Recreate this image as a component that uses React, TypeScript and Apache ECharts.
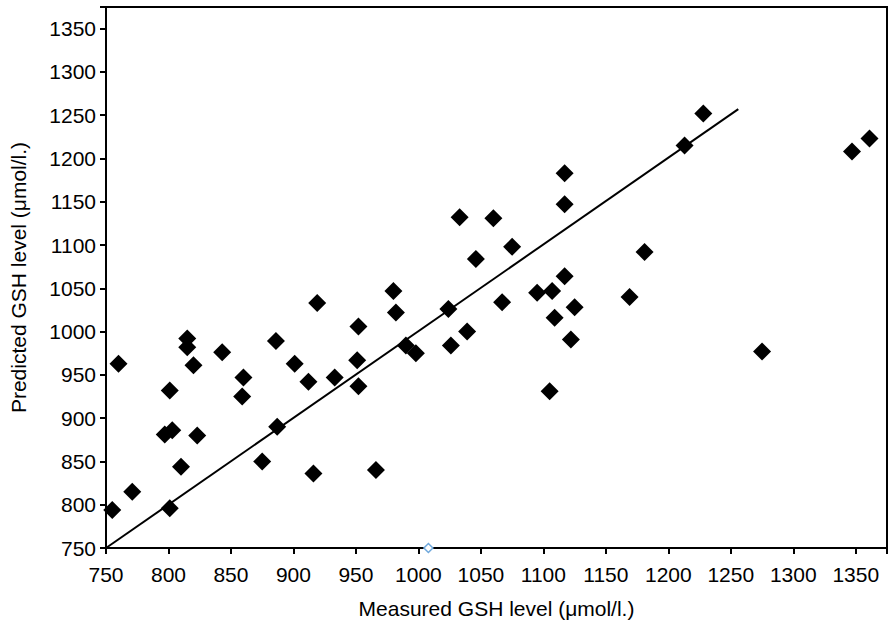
import { useEffect, useRef } from "react";
import * as echarts from "echarts";

const xTicks = [750, 800, 850, 900, 950, 1000, 1050, 1100, 1150, 1200, 1250, 1300, 1350];
const measured = [755, 771, 760, 801, 801, 797, 803, 810, 815, 815, 820, 823, 843, 860, 859, 875, 886, 887, 901, 912, 916, 919, 933, 951, 952, 952, 966, 980, 982, 990, 998, 1024, 1026, 1033, 1039, 1046, 1060, 1067, 1075, 1095, 1105, 1107, 1109, 1117, 1117, 1117, 1122, 1125, 1169, 1181, 1213, 1228, 1275, 1347, 1361];
const predicted = [794, 815, 963, 796, 932, 881, 886, 844, 992, 982, 961, 880, 976, 947, 925, 850, 989, 890, 963, 942, 836, 1033, 947, 967, 1006, 937, 840, 1047, 1022, 984, 975, 1026, 984, 1132, 1000, 1084, 1131, 1034, 1098, 1045, 931, 1047, 1016, 1183, 1147, 1064, 991, 1028, 1040, 1092, 1215, 1252, 977, 1208, 1223];
const fitLine = [[750, 750], [1256, 1257]];
const extraPoint = [[1008, 750]];

export default function App() {
  const ref = useRef<HTMLDivElement | null>(null);

  useEffect(() => {
    if (!ref.current) return;
    document.body.style.margin = "0";
    const chart = echarts.init(ref.current, null, { renderer: "svg" });
    const font = "'Liberation Sans', Arial, sans-serif";
    const axisCommon = {
      type: "value",
      min: 750,
      max: 1375,
      interval: 50,
      axisLine: { show: true, onZero: false, lineStyle: { color: "#000", width: 2 } },
      axisTick: { show: true, length: 6, lineStyle: { color: "#000", width: 2 } },
      splitLine: { show: false },
      axisLabel: {
        color: "#000",
        fontSize: 21,
        fontFamily: font,
        formatter: (v: number) => (xTicks.includes(v) ? String(v) : ""),
      },
      nameTextStyle: { color: "#000", fontSize: 21, fontFamily: font },
      nameLocation: "middle",
    };
    chart.setOption({
      animation: false,
      backgroundColor: "#fff",
      grid: { left: 103, right: 3, top: 7, bottom: 80, show: true, borderColor: "#000", borderWidth: 2 },
      xAxis: {
        ...axisCommon,
        axisLabel: { ...axisCommon.axisLabel, margin: 16 },
        name: "Measured GSH level (\u03bcmol/l.)",
        nameGap: 50,
      },
      yAxis: {
        ...axisCommon,
        axisLabel: { ...axisCommon.axisLabel, margin: 10 },
        name: "Predicted GSH level (\u03bcmol/l.)",
        nameGap: 77,
      },
      series: [
        {
          type: "scatter",
          data: measured.map((m, i) => [m, predicted[i]]),
          symbol: "diamond",
          symbolSize: 18,
          itemStyle: { color: "#000", opacity: 1 },
        },
        {
          type: "line",
          data: fitLine,
          symbol: "none",
          lineStyle: { color: "#000", width: 2 },
        },
        {
          type: "scatter",
          data: extraPoint,
          symbol: "diamond",
          symbolSize: 9,
          itemStyle: { color: "#fff", borderColor: "#6fa8dc", borderWidth: 1.5, opacity: 1 },
        },
      ],
    });
    return () => chart.dispose();
  }, []);

  return <div ref={ref} style={{ width: 890, height: 628 }} />;
}
